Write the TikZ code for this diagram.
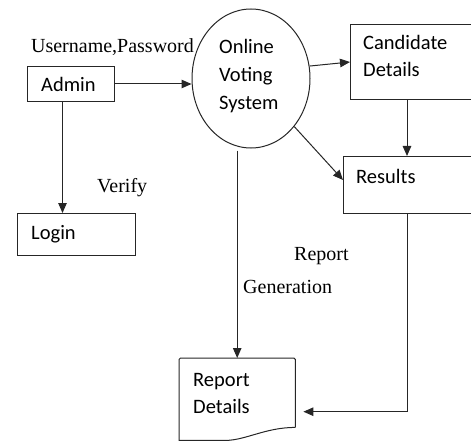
\documentclass[tikz,border=0pt]{standalone}
\usepackage{fontspec}
\setmainfont{Liberation Serif}
\newfontfamily\boxfont{Carlito}
\usetikzlibrary{arrows.meta,shapes.geometric,calc}

\tikzset{
  edge/.style={draw=black!85, line width=1pt},
  flow/.style={edge, -{Triangle[length=10pt,width=8.5pt]}},
  box/.style={edge, rectangle, inner sep=0pt, anchor=north west},
  boxtext/.style={inner sep=0pt, anchor=base west, font=\boxfont\fontsize{20.5}{24}\selectfont},
  flowtext/.style={inner sep=0pt, font=\fontsize{20}{23}\selectfont},
}

\begin{document}
\begin{tikzpicture}[x=1pt, y=-1pt]
\useasboundingbox (0,0) rectangle (471,441);
\clip (0,0) rectangle (471,441);

% process bubble and entity boxes
\node[edge, ellipse, inner sep=0pt, minimum width=118pt, minimum height=139pt] (ovs) at (251,78.5) {};
\node[box, minimum width=87pt, minimum height=35pt] (admin) at (27,66) {};
\node[box, minimum width=118pt, minimum height=42pt] (login) at (17,213) {};
\node[box, minimum width=135pt, minimum height=75pt] (cand) at (350,24) {};
\node[box, minimum width=140pt, minimum height=57pt] (res) at (343,156) {};
\node[inner sep=0pt, anchor=north west, minimum width=116pt, minimum height=69pt] (rep) at (179,358) {};

% document shape for the report
\draw[edge, rounded corners=1.5pt] (rep.south east) -- (rep.north east) -- (rep.north west) -- ($(rep.north west)+(0,83)$);
\draw[edge] (rep.south east) .. controls ($(rep.south east)+(-30,0)$) and ($(rep.south east)+(-50,13)$) .. ($(rep.south east)+(-70,13)$) -- ($(rep.south west)+(0,13)$);

% texts inside the shapes
\node[boxtext] (tadmin) at (41,92) {Admin};
\node[boxtext] (tlogin) at (31,239) {Login};
\node[boxtext] (tovs1) at (219,54) {Online};
\node[boxtext] (tovs2) at (219,82) {Voting};
\node[boxtext] (tovs3) at (219,110) {System};
\node[boxtext] (tcand1) at (363,50) {Candidate};
\node[boxtext] (tcand2) at (363,77) {Details};
\node[boxtext] (tres) at (356,183) {Results};
\node[boxtext] (trep1) at (193,386) {Report};
\node[boxtext] (trep2) at (193,413) {Details};

% flow labels
\node[flowtext, anchor=base] (lup) at (112.5,53) {Username,Password};
\node[flowtext, anchor=base west] (lver) at (97,192) {Verify};
\node[flowtext, anchor=base west] (lrep) at (294,260) {Report};
\node[flowtext, anchor=base west] (lgen) at (243,293) {Generation};

% data flows
\draw[flow] (admin.east) -- (admin.east -| ovs.west);
\draw[flow] ([xshift=-8.5pt]admin.south) -- ([xshift=-8.5pt]admin.south |- login.north);
\draw[flow] (ovs.12) -- (cand.west);
\draw[flow] (ovs.-48) -- ([yshift=5pt]res.west);
\draw[flow] ([xshift=57pt]cand.south west) -- ([xshift=57pt]cand.south west |- res.north);
\draw[flow] ($(ovs.south -| rep.north)+(0,2)$) -- (rep.north);
\draw[flow] ([xshift=64pt]res.south west) |- ([xshift=8pt,yshift=-19pt]rep.east);
\end{tikzpicture}
\end{document}
